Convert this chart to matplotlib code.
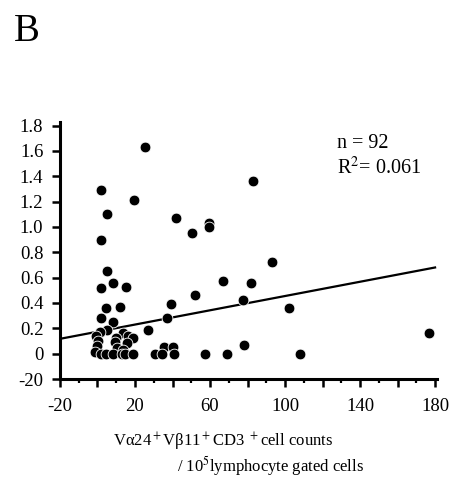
import numpy as np
import matplotlib
matplotlib.use('Agg')
import matplotlib.pyplot as plt

plt.rcParams['font.family'] = ['Liberation Serif', 'DejaVu Serif']
plt.rcParams['mathtext.fontset'] = 'stix'

# cell counts (x) vs ratio (y)
cell_counts = [25.3, 1.7, 5.2, 19.5, 1.7, 41.9, 50.4, 59.6, 59.6, 82.8,
               93.1, 5.2, 8.1, 15.0, 1.7, 4.5, 12.0, 67.1, 81.7, 52.0,
               77.4, 39.2, 37.2, 102.1, 1.7, 8.1, 4.9, 26.8, 1.3, -0.8,
               0.4, -0.4, 13.8, 16.1, 19.1, 9.9, 9.3, 15.6, 10.6, 13.8,
               35.5, 40.4, 78.1, 176.6,
               -1.3, 1.7, 4.5, 8.4, 12.9, 14.5, 19.1, 30.7, 34.2, 40.8,
               57.3, 69.2, 108.0]
ratio = [1.63, 1.29, 1.10, 1.21, 0.90, 1.07, 0.95, 1.03, 1.00, 1.36,
         0.72, 0.65, 0.555, 0.525, 0.52, 0.36, 0.37, 0.57, 0.555, 0.46,
         0.425, 0.39, 0.28, 0.36, 0.28, 0.25, 0.19, 0.19, 0.17, 0.14,
         0.10, 0.06, 0.165, 0.14, 0.12, 0.12, 0.09, 0.085, 0.045, 0.026,
         0.05, 0.05, 0.066, 0.16,
         0.01, 0, 0, 0, 0, 0, 0, 0, 0, 0,
         0, 0, 0]

# regression line end points
fit_x = [-20, 180]
fit_y = [0.117, 0.68]

y_ticks = [-0.2, 0, 0.2, 0.4, 0.6, 0.8, 1.0, 1.2, 1.4, 1.6, 1.8]
y_labels = ['-20', '0', '0.2', '0.4', '0.6', '0.8', '1.0', '1.2', '1.4', '1.6', '1.8']
x_ticks = [-20, 0, 20, 40, 60, 80, 100, 120, 140, 160, 180]
x_labels = ['-20', '', '20', '', '60', '', '100', '', '140', '', '180']

fig = plt.figure(figsize=(4.52, 4.8), dpi=100)
ax = fig.add_axes([0.1327, 0.2104, 0.834, 0.536])

ax.plot(fit_x, fit_y, color='black', lw=1.6, zorder=2)
ax.scatter(cell_counts, ratio, s=60, color='black', edgecolors='white',
           linewidths=0.6, zorder=3, clip_on=False)

ax.set_xlim(-20, 181)
ax.set_ylim(-0.2, 1.83)
ax.set_xticks(x_ticks)
ax.set_xticklabels(x_labels)
ax.set_xticks(np.arange(-10, 180, 20), minor=True)
ax.set_yticks(y_ticks)
ax.set_yticklabels(y_labels)

for s in ['top', 'right']:
    ax.spines[s].set_visible(False)
for s in ['left', 'bottom']:
    ax.spines[s].set_linewidth(2.2)
ax.tick_params(axis='both', which='major', direction='out', length=6,
               width=1.8, labelsize=13.5, pad=6)
ax.tick_params(axis='x', which='minor', direction='out', length=3, width=1.6)
ax.tick_params(axis='x', which='major', pad=8)

ax.text(0.735, 0.898, 'n = 92', transform=ax.transAxes, fontsize=14.5,
        va='baseline')
ax.text(0.735, 0.796, 'R$^2$= 0.061', transform=ax.transAxes, fontsize=14.5,
        va='baseline')

fig.text(0.03, 0.915, 'B', fontsize=28)
fig.text(113 / 452, 1 - 442 / 480, 'V\u03b124$^+$V\u03b211$^+$CD3 $^+$cell counts',
         fontsize=12, va='center')
fig.text(177 / 452, 1 - 466 / 480, '/ 10$^5$lymphocyte gated cells',
         fontsize=12, va='center')

fig.savefig('out.png', dpi=100)
